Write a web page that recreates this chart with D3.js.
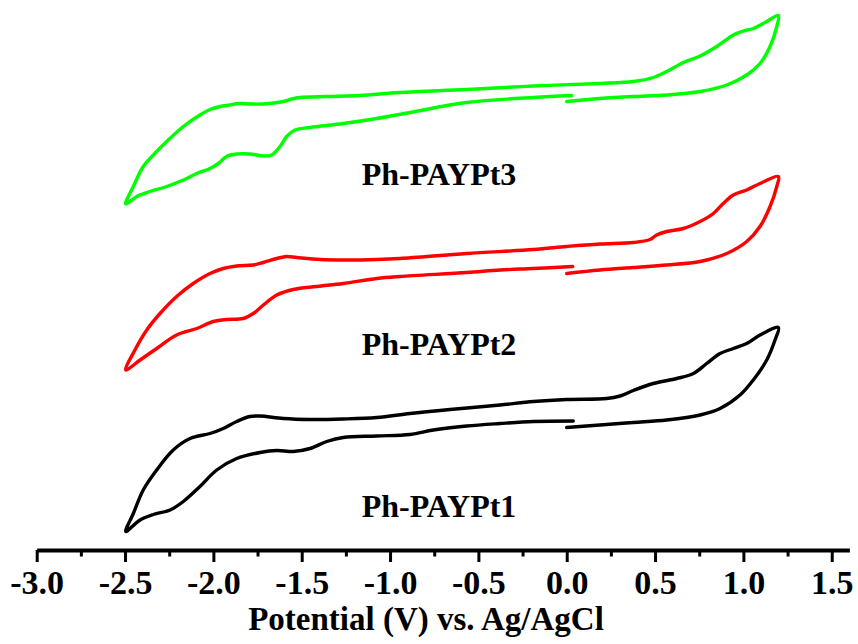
<!DOCTYPE html>
<html>
<head>
<meta charset="utf-8">
<script src="https://cdn.jsdelivr.net/npm/d3@7"></script>
<style>
  html, body { margin: 0; padding: 0; background: #fff; }
  svg { display: block; }
  text { font-family: "Liberation Serif", "Times New Roman", serif; font-weight: bold; }
</style>
</head>
<body>
<svg id="chart" width="858" height="644"></svg>
<script>
// Cyclic voltammograms, sweep starts at 0 V, goes anodic to +1.2 V,
// back to -2.5 V, then returns toward 0 V. Currents in arbitrary units.

const pt1Potential = [0.000, 0.188, 0.377, 0.566, 0.755, 0.868, 0.981, 1.056, 1.132, 1.179, 1.198,
  1.094, 1.019, 0.943, 0.868, 0.792, 0.717, 0.623, 0.490, 0.377, 0.302, 0.226, 0.000, -0.189,
  -0.378, -0.661, -0.887, -1.075, -1.265, -1.453, -1.604, -1.736, -1.793, -1.868, -1.944, -2.019,
  -2.132, -2.227, -2.321, -2.397, -2.453, -2.496, -2.415, -2.340, -2.245, -2.170, -2.076, -1.981,
  -1.868, -1.736, -1.641, -1.548, -1.453, -1.358, -1.265, -1.075, -0.887, -0.755, -0.566, -0.378,
  -0.189, 0.037];
const pt1Current = [24.5, 25.0, 25.5, 26.0, 27.0, 28.3, 31.0, 34.0, 38.0, 42.0, 44.5,
  43.0, 41.3, 40.3, 39.3, 37.3, 35.3, 34.3, 33.3, 31.9, 30.8, 30.3, 30.1, 29.7,
  29.0, 28.1, 27.3, 26.5, 26.2, 26.1, 26.3, 26.8, 26.7, 25.7, 24.3, 23.3,
  22.3, 20.0, 16.0, 12.0, 7.3, 3.7, 6.0, 7.1, 8.0, 9.7, 12.7, 16.0,
  18.3, 19.5, 19.9, 19.7, 20.3, 21.7, 22.5, 22.8, 23.1, 24.0, 24.8, 25.3,
  25.7, 25.8];

const pt2Potential = [0.000, 0.188, 0.377, 0.566, 0.755, 0.906, 1.019, 1.094, 1.151, 1.189, 1.198,
  1.094, 1.019, 0.943, 0.886, 0.830, 0.755, 0.660, 0.566, 0.509, 0.472, 0.377, 0.188, 0.000,
  -0.189, -0.566, -0.944, -1.075, -1.265, -1.396, -1.528, -1.585, -1.641, -1.717, -1.774, -1.868,
  -1.944, -2.019, -2.114, -2.208, -2.302, -2.377, -2.444, -2.496, -2.415, -2.321, -2.208, -2.094,
  -2.000, -1.925, -1.831, -1.774, -1.717, -1.641, -1.548, -1.415, -1.265, -1.075, -0.944, -0.566,
  -0.378, -0.189, 0.034];
const pt2Current = [25.3, 26.0, 26.5, 27.0, 27.7, 29.3, 31.7, 34.7, 38.7, 42.7, 44.7,
  43.3, 42.0, 41.0, 39.3, 37.3, 35.7, 34.3, 33.7, 33.0, 32.1, 31.5, 31.2, 30.7,
  30.1, 29.3, 28.3, 28.1, 28.0, 28.1, 28.5, 28.7, 28.3, 27.5, 27.0, 26.8,
  26.3, 25.3, 23.3, 20.7, 17.3, 14.0, 10.0, 6.0, 8.0, 10.3, 13.0, 14.3,
  15.7, 16.1, 16.3, 17.3, 19.0, 21.0, 22.1, 22.7, 23.3, 24.3, 24.7, 25.5,
  26.0, 26.3, 26.7];

const pt3Potential = [0.000, 0.188, 0.377, 0.566, 0.755, 0.906, 1.019, 1.094, 1.151, 1.189, 1.198,
  1.132, 1.056, 1.000, 0.943, 0.849, 0.755, 0.660, 0.566, 0.490, 0.377, 0.188, -0.189, -0.566,
  -0.944, -1.170, -1.358, -1.510, -1.557, -1.604, -1.717, -1.793, -1.859, -1.906, -1.962, -2.019,
  -2.076, -2.170, -2.264, -2.340, -2.397, -2.453, -2.496, -2.434, -2.359, -2.264, -2.170, -2.094,
  -2.019, -1.972, -1.925, -1.868, -1.793, -1.717, -1.670, -1.623, -1.585, -1.538, -1.453, -1.265,
  -1.075, -0.887, -0.566, -0.189, 0.028];
const pt3Current = [29.7, 30.3, 30.7, 31.0, 31.7, 33.0, 35.0, 37.3, 40.7, 44.7, 46.9,
  45.7, 44.3, 43.8, 43.0, 40.7, 38.8, 37.5, 35.7, 34.5, 33.7, 33.3, 32.8, 32.1,
  31.5, 30.9, 30.7, 30.5, 30.2, 29.7, 29.2, 29.2, 29.3, 29.0, 28.7, 28.1,
  27.0, 24.7, 21.7, 19.0, 16.7, 12.7, 9.2, 10.7, 11.7, 12.7, 14.0, 15.3,
  16.3, 17.3, 18.7, 19.2, 19.2, 18.8, 19.0, 20.7, 22.7, 24.0, 24.5, 25.3,
  26.3, 27.5, 29.5, 30.5, 30.9];

const seriesNames = ["Ph-PAYPt1", "Ph-PAYPt2", "Ph-PAYPt3"];
const seriesColors = ["#000000", "#ff0000", "#00ff00"];
const seriesOffsets = [0, 30, 60];          // vertical stacking offset, a.u.
const labelCurrents = [6.6, 9.0, 13.0];     // label baseline, relative to each stack offset

const majorTicks = [-3.0, -2.5, -2.0, -1.5, -1.0, -0.5, 0.0, 0.5, 1.0, 1.5];
const minorTicks = [-2.75, -2.25, -1.75, -1.25, -0.75, -0.25, 0.25, 0.75, 1.25];
const xTitle = "Potential (V) vs. Ag/AgCl";

const potentials = [pt1Potential, pt2Potential, pt3Potential];
const currents = [pt1Current, pt2Current, pt3Current];

const svg = d3.select("#chart");

const x = d3.scaleLinear().domain([-3.0, 1.6]).range([36.7, 849.4]);
const y = d3.scaleLinear().domain([0, 110]).range([550, 0]);

// Curves
const line = d3.line()
  .x(d => x(d.v))
  .y(d => y(d.i))
  .curve(d3.curveCatmullRom.alpha(0.5));

seriesNames.forEach((name, k) => {
  const pts = potentials[k].map((v, j) => ({ v, i: currents[k][j] + seriesOffsets[k] }));
  svg.append("path")
    .datum(pts)
    .attr("d", line)
    .attr("fill", "none")
    .attr("stroke", seriesColors[k])
    .attr("stroke-width", 3.4)
    .attr("stroke-linejoin", "round")
    .attr("stroke-linecap", "round");

  svg.append("text")
    .attr("x", 361.7)
    .attr("y", y(labelCurrents[k] + seriesOffsets[k]))
    .attr("font-size", 32)
    .attr("fill", "#000")
    .text(name);
});

// Bottom axis: minor ticks first, then labelled major ticks
const axisY = y(0);

const minorAxis = d3.axisBottom(x)
  .tickValues(minorTicks)
  .tickSize(6.5)
  .tickSizeOuter(0)
  .tickFormat("");
const gMinor = svg.append("g").attr("transform", `translate(0,${axisY})`).call(minorAxis);
gMinor.select(".domain").remove();
gMinor.selectAll(".tick line").attr("stroke", "#000").attr("stroke-width", 3);

const majorAxis = d3.axisBottom(x)
  .tickValues(majorTicks)
  .tickSize(12)
  .tickSizeOuter(0)
  .tickFormat(d => d.toFixed(1));
const gMajor = svg.append("g").attr("transform", `translate(0,${axisY})`).call(majorAxis);
gMajor.select(".domain").attr("stroke", "#000").attr("stroke-width", 4);
gMajor.selectAll(".tick line").attr("stroke", "#000").attr("stroke-width", 3);
gMajor.selectAll(".tick text")
  .attr("y", 44)
  .attr("dy", 0)
  .attr("fill", "#000")
  .style("font-family", "'Liberation Serif', 'Times New Roman', serif")
  .style("font-weight", "bold")
  .style("font-size", "34px");

svg.append("text")
  .attr("x", 426)
  .attr("y", 630)
  .attr("text-anchor", "middle")
  .attr("font-size", 33)
  .attr("fill", "#000")
  .text(xTitle);
</script>
</body>
</html>
